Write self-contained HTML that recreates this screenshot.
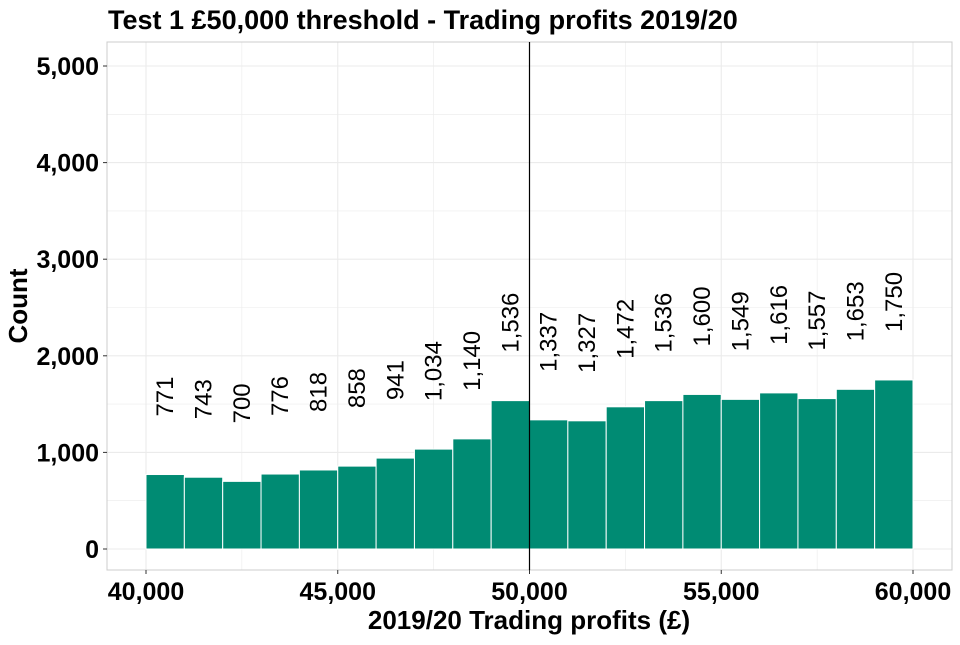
<!DOCTYPE html>
<html><head><meta charset="utf-8"><style>
body{margin:0;background:#fff;font-family:"Liberation Sans",Arial,sans-serif}
</style></head><body>
<svg width="960" height="640" xmlns="http://www.w3.org/2000/svg">
<text x="108" y="29" font-size="27" font-weight="bold">Test 1 £50,000 threshold - Trading profits 2019/20</text>
<g id="grid"></g>
<rect x="107" y="42" width="845" height="528" fill="none" stroke="#cccccc"/>
<g id="bars"></g>
<g id="labels"></g>
<line id="thr" y1="42" y2="570" stroke="#000" stroke-width="1.2"/>
<g id="yt"></g>
<g id="xt"></g>
<text x="529" y="629" text-anchor="middle" font-size="26" font-weight="bold">2019/20 Trading profits (£)</text>
<text transform="translate(27,306) rotate(-90)" text-anchor="middle" font-size="26" font-weight="bold">Count</text>
</svg>
<script>
const binStarts=[40000,41000,42000,43000,44000,45000,46000,47000,48000,49000,50000,51000,52000,53000,54000,55000,56000,57000,58000,59000];
const counts=[771,743,700,776,818,858,941,1034,1140,1536,1337,1327,1472,1536,1600,1549,1616,1557,1653,1750];
const yTicks=[0,1000,2000,3000,4000,5000];
const xTicks=[40000,45000,50000,55000,60000];
const threshold=50000;
const X=v=>146+(v-40000)*(913-146)/20000;
const Y=v=>549-v*(549-66)/5000;
const NS="http://www.w3.org/2000/svg";
function mk(t,a,p){const e=document.createElementNS(NS,t);for(const k in a)e.setAttribute(k,a[k]);p.appendChild(e);return e;}
const grid=document.getElementById('grid');
for(let v=0;v<=5000;v+=500){const l=mk('line',{x1:107,x2:952,y1:Y(v),y2:Y(v),stroke:'#ebebeb','stroke-width':v%1000?0.6:1.1},grid);

}
for(let v=37500;v<=62500;v+=2500){const x=X(v);if(x<107||x>952)continue;const l=mk('line',{x1:x,x2:x,y1:42,y2:570,stroke:'#ebebeb','stroke-width':v%5000?0.6:1.1},grid);

}
const bars=document.getElementById('bars'),labs=document.getElementById('labels');
const fmt=n=>n.toLocaleString('en-US');
binStarts.forEach((s,i)=>{
 const x0=X(s),x1=X(s+1000),yt=Y(counts[i]);
 const r=mk('rect',{x:x0,y:yt,width:x1-x0,height:Y(0)-yt,fill:'#008B73',stroke:'#fff','stroke-width':1},bars);
 
 
 const cx=(x0+x1)/2+8, by=yt-78;
 const t=mk('text',{transform:`translate(${cx},${by}) rotate(-90)`,'font-size':24,'text-anchor':'middle'},labs);
 t.textContent=fmt(counts[i]);
 
 
});
document.getElementById('thr').setAttribute('x1',X(threshold));
document.getElementById('thr').setAttribute('x2',X(threshold));
const yt=document.getElementById('yt');
yTicks.forEach(v=>{mk('line',{x1:103,x2:107,y1:Y(v),y2:Y(v),stroke:'#333'},yt);
 const t=mk('text',{x:99,y:Y(v)+9,'text-anchor':'end','font-size':25,'font-weight':'bold'},yt);t.textContent=fmt(v);
 
 });
const xt=document.getElementById('xt');
xTicks.forEach(v=>{mk('line',{x1:X(v),x2:X(v),y1:570,y2:574,stroke:'#333'},xt);
 const t=mk('text',{x:X(v),y:600,'text-anchor':'middle','font-size':25,'font-weight':'bold'},xt);t.textContent=fmt(v);
 
 });
</script>
</body></html>
